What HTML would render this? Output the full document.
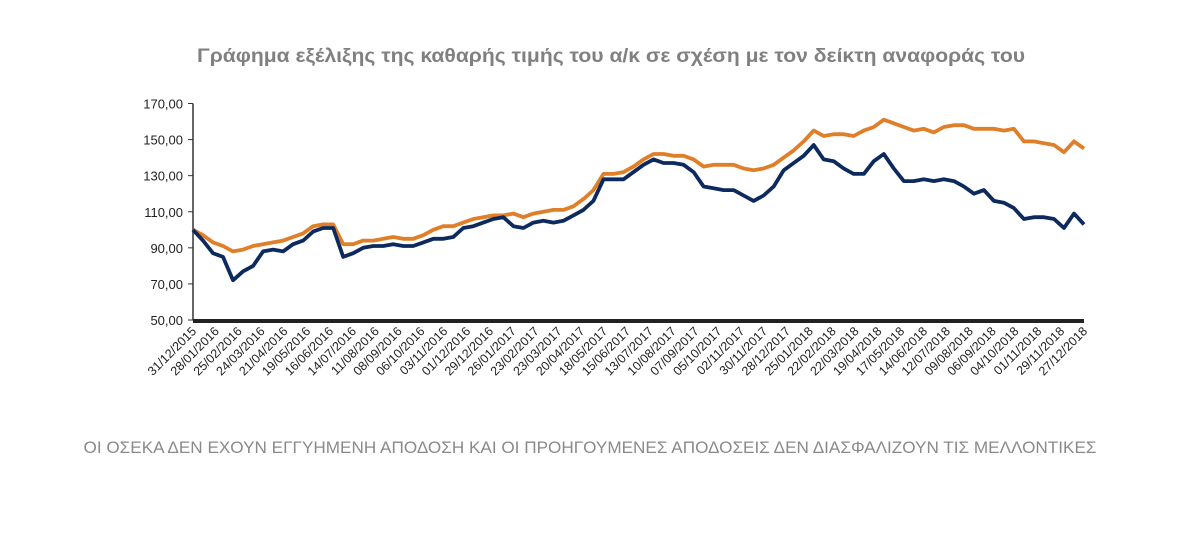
<!DOCTYPE html>
<html><head><meta charset="utf-8"><style>
body{margin:0;background:#fff;width:1182px;height:542px;overflow:hidden;font-family:"Liberation Sans",sans-serif}
</style></head><body>
<svg width="1182" height="542" viewBox="0 0 1182 542">
<text x="611" y="62" text-anchor="middle" font-size="19.5" font-weight="bold" fill="#808080" textLength="828" lengthAdjust="spacingAndGlyphs">Γράφημα εξέλιξης της καθαρής τιμής του α/κ σε σχέση με τον δείκτη αναφοράς του</text>
<g id="yaxis"></g>
<g id="xaxis"></g>
<g id="series"></g>
<text x="590" y="453" text-anchor="middle" font-size="16.5" fill="#8a8a8a" textLength="1013" lengthAdjust="spacingAndGlyphs">ΟΙ ΟΣΕΚΑ ΔΕΝ ΕΧΟΥΝ ΕΓΓΥΗΜΕΝΗ ΑΠΟΔΟΣΗ ΚΑΙ ΟΙ ΠΡΟΗΓΟΥΜΕΝΕΣ ΑΠΟΔΟΣΕΙΣ ΔΕΝ ΔΙΑΣΦΑΛΙΖΟΥΝ ΤΙΣ ΜΕΛΛΟΝΤΙΚΕΣ</text>
</svg>
<script>
const yTicks=[50,70,90,110,130,150,170];
const xLabels=["31/12/2015","28/01/2016","25/02/2016","24/03/2016","21/04/2016","19/05/2016","16/06/2016","14/07/2016","11/08/2016","08/09/2016","06/10/2016","03/11/2016","01/12/2016","29/12/2016","26/01/2017","23/02/2017","23/03/2017","20/04/2017","18/05/2017","15/06/2017","13/07/2017","10/08/2017","07/09/2017","05/10/2017","02/11/2017","30/11/2017","28/12/2017","25/01/2018","22/02/2018","22/03/2018","19/04/2018","17/05/2018","14/06/2018","12/07/2018","09/08/2018","06/09/2018","04/10/2018","01/11/2018","29/11/2018","27/12/2018"];
const indexValues=[100,97,93,91,88,89,91,92,93,94,96,98,102,103,103,92,92,94,94,95,96,95,95,97,100,102,102,104,106,107,108,108,109,107,109,110,111,111,113,117,122,131,131,132,135,139,142,142,141,141,139,135,136,136,136,134,133,134,136,140,144,149,155,152,153,153,152,155,157,161,159,157,155,156,154,157,158,158,156,156,156,155,156,149,149,148,147,143,149,145];
const fundValues=[100,94,87,85,72,77,80,88,89,88,92,94,99,101,101,85,87,90,91,91,92,91,91,93,95,95,96,101,102,104,106,107,102,101,104,105,104,105,108,111,116,128,128,128,132,136,139,137,137,136,132,124,123,122,122,119,116,119,124,133,137,141,147,139,138,134,131,131,138,142,134,127,127,128,127,128,127,124,120,122,116,115,112,106,107,107,106,101,109,103];
const X0=193,X1=1084,Y0=320,Y1=103.5,NS="http://www.w3.org/2000/svg";
const y=v=>Y0-(v-50)/(170-50)*(Y0-Y1);
const xs=i=>X0+i*(X1-X0)/(indexValues.length-1);
const xl=i=>X0+i*(X1-X0)/(xLabels.length-1);
function mk(t,a,p){const e=document.createElementNS(NS,t);for(const k in a)e.setAttribute(k,a[k]);p.appendChild(e);return e;}
const ya=document.getElementById('yaxis'),xa=document.getElementById('xaxis'),sg=document.getElementById('series');
const yl=mk('line',{x1:X0,y1:Y1,x2:X0,y2:Y0,stroke:'#333','stroke-width':1.5},ya);


yTicks.forEach(v=>{
 const t=mk('line',{x1:X0-5,y1:y(v),x2:X0,y2:y(v),stroke:'#333'},ya);
 
 
 const l=mk('text',{x:X0-10,y:y(v)+5,'text-anchor':'end','font-size':13,fill:'#222'},ya);
 
 
 l.textContent=v.toFixed(2).replace('.',',');
});
const xl0=mk('rect',{x:X0,y:Y0-1,width:X1-X0,height:4,fill:'#222'},xa);


xLabels.forEach((s,i)=>{
 const t=mk('text',{x:xl(i)+4,y:Y0+12,'text-anchor':'end','font-size':12.5,fill:'#222',transform:`rotate(-45 ${xl(i)+4} ${Y0+12})`},xa);
 
 
 t.textContent=s;
});
function line(vals,col,name){
 const p=mk('polyline',{points:vals.map((v,i)=>xs(i).toFixed(1)+','+y(v).toFixed(1)).join(' '),fill:'none',stroke:col,'stroke-width':3.8,'stroke-linejoin':'round'},sg);
 
 
}
line(indexValues,'#e07f2a','benchmark-line');
line(fundValues,'#0d2a5f','fund-line');
</script>
</body></html>
